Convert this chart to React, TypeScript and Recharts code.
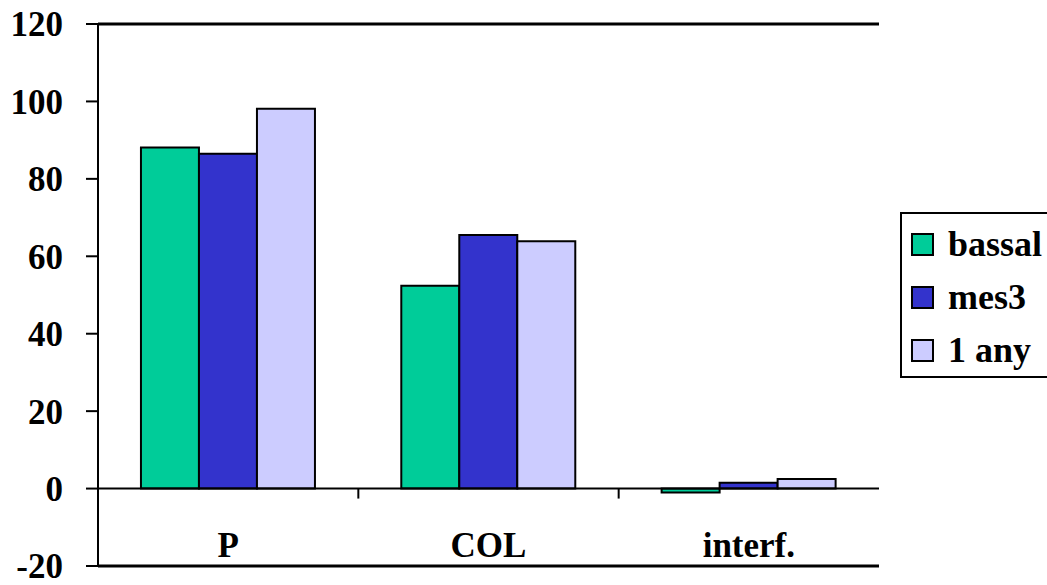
import React from "react";
import {
  ComposedChart,
  Bar,
  XAxis,
  YAxis,
  CartesianGrid,
  ReferenceLine,
  Legend,
} from "recharts";

// Categories and series values
const categories = ["P", "COL", "interf."];
const bassal = [88.1, 52.4, -1.0];
const mes3 = [86.5, 65.5, 1.5];
const unAny = [98.1, 63.9, 2.5];
const yTicks = [-20, 0, 20, 40, 60, 80, 100, 120];

const seriesInfo = [
  { key: "bassal", name: "bassal", color: "#00CC99" },
  { key: "mes3", name: "mes3", color: "#3333CC" },
  { key: "unAny", name: "1 any", color: "#CCCCFF" },
];

const data = categories.map((c, i) => ({
  category: c,
  bassal: bassal[i],
  mes3: mes3[i],
  unAny: unAny[i],
}));

const FONT = "Liberation Serif";

// Zero baseline with short tick marks between categories
const ZeroAxis = (props: any) => {
  const { x1, x2, y1 } = props;
  const n = categories.length;
  const step = (x2 - x1) / n;
  const marks = [];
  for (let k = 1; k < n; k++) {
    const x = x1 + step * k;
    marks.push(
      <line key={k} x1={x} x2={x} y1={y1} y2={y1 + 10} stroke="#000" strokeWidth={2} />
    );
  }
  return (
    <g>
      <line x1={x1} x2={x2} y1={y1} y2={y1} stroke="#000" strokeWidth={2} />
      {marks}
    </g>
  );
};

const CategoryTick = (props: any) => {
  const { x, y, payload } = props;
  return (
    <text
      x={x}
      y={y - 9}
      textAnchor="middle"
      style={{ fontFamily: FONT, fontWeight: "bold", fontSize: 35 }}
      fill="#000"
    >
      {payload.value}
    </text>
  );
};

const LegendBox = () => (
  <div
    style={{
      boxSizing: "border-box",
      width: 147,
      height: 166,
      border: "2px solid #000",
      borderRight: "none",
      background: "#fff",
      paddingTop: 4,
      fontFamily: FONT,
      fontWeight: "bold",
      fontSize: 36,
    }}
  >
    {seriesInfo.map((s) => (
      <div
        key={s.key}
        style={{ height: 53, display: "flex", alignItems: "center", whiteSpace: "nowrap" }}
      >
        <span
          style={{
            display: "inline-block",
            boxSizing: "border-box",
            width: 23,
            height: 23,
            marginLeft: 9,
            marginRight: 14,
            background: s.color,
            border: "2px solid #000",
          }}
        />
        <span style={{ lineHeight: "53px" }}>{s.name}</span>
      </div>
    ))}
  </div>
);

export default function App() {
  return (
    <div style={{ position: "absolute", left: 0, top: 0, width: 1047, height: 585, background: "#fff" }}>
      <ComposedChart
        width={1047}
        height={585}
        data={data}
        margin={{ top: 24, right: 168, bottom: 18, left: 0 }}
        barCategoryGap="16.5%"
        barGap={0}
      >
        <CartesianGrid vertical={false} stroke="#000" strokeWidth={2} />
        <XAxis
          dataKey="category"
          height={1}
          axisLine={false}
          tickLine={false}
          tickSize={0}
          tickMargin={0}
          tick={<CategoryTick />}
          interval={0}
        />
        <YAxis
          yAxisId="left"
          width={98}
          domain={[-20, 120]}
          ticks={yTicks}
          interval={0}
          allowDataOverflow
          axisLine={{ stroke: "#000", strokeWidth: 2 }}
          tickLine={{ stroke: "#000", strokeWidth: 2 }}
          tickSize={12}
          tickMargin={23}
          tick={{ style: { fontFamily: FONT, fontWeight: "bold", fontSize: 35 }, fill: "#000" }}
        />
        <YAxis
          yAxisId="right"
          orientation="right"
          width={0}
          domain={[-20, 120]}
          ticks={yTicks}
          tick={false}
          tickLine={false}
          axisLine={{ stroke: "#000", strokeWidth: 2 }}
        />
        {seriesInfo.map((s) => (
          <Bar
            key={s.key}
            yAxisId="left"
            dataKey={s.key}
            name={s.name}
            fill={s.color}
            stroke="#000"
            strokeWidth={2}
            isAnimationActive={false}
          />
        ))}
        <ReferenceLine yAxisId="left" y={0} shape={<ZeroAxis />} />
        <ReferenceLine yAxisId="left" y={120} stroke="#000" strokeWidth={3} />
        <ReferenceLine yAxisId="left" y={-20} stroke="#000" strokeWidth={3} />
        <Legend
          layout="horizontal"
          verticalAlign="middle"
          align="center"
          content={<LegendBox />}
          wrapperStyle={{ position: "absolute", left: 900, top: 212, width: 147 }}
        />
      </ComposedChart>
    </div>
  );
}
